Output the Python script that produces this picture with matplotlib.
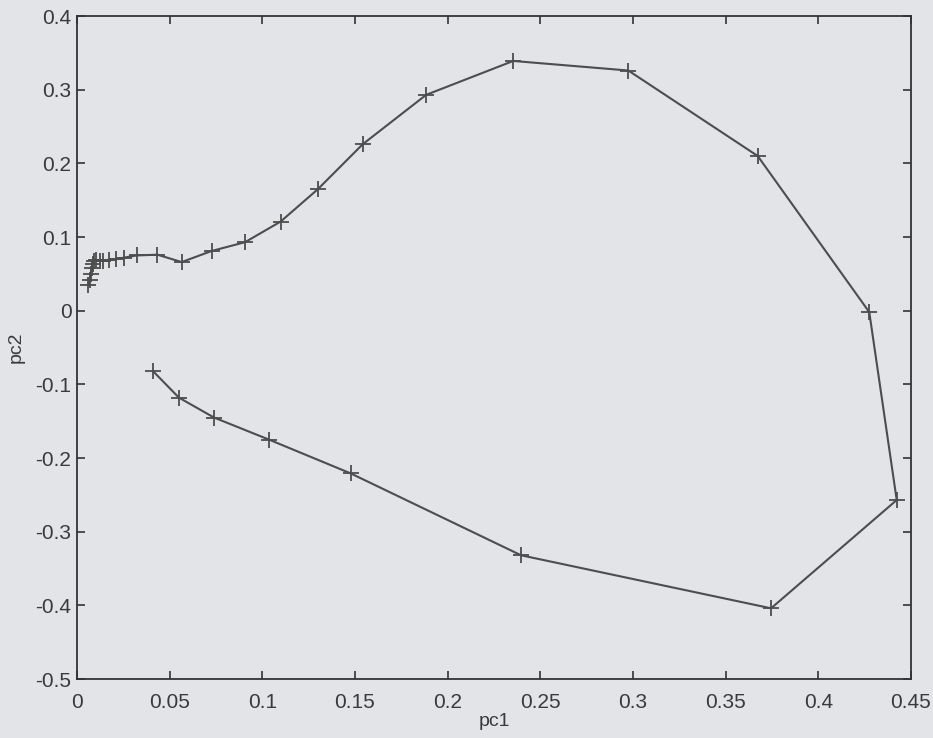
import matplotlib.pyplot as plt

# trajectory in principal-component space
pc1 = [0.0062, 0.0068, 0.0074, 0.0080, 0.0086, 0.0092, 0.0102, 0.0122, 0.0142, 0.0172,
       0.0212, 0.0253, 0.0323, 0.0434, 0.0565, 0.0726, 0.0907, 0.1099, 0.1300, 0.1542,
       0.1884, 0.2354, 0.2975, 0.3673, 0.4275, 0.4423, 0.3745, 0.2396, 0.1478, 0.1036,
       0.0739, 0.0550, 0.0410]
pc2 = [0.035, 0.042, 0.050, 0.058, 0.063, 0.067, 0.069, 0.068, 0.068, 0.069,
       0.070, 0.072, 0.075, 0.076, 0.066, 0.081, 0.093, 0.121, 0.165, 0.226,
       0.293, 0.339, 0.326, 0.210, -0.002, -0.257, -0.404, -0.332, -0.221, -0.175,
       -0.145, -0.118, -0.082]

plt.rcParams['font.family'] = ['Liberation Sans', 'DejaVu Sans']

fig = plt.figure(figsize=(9.33, 7.38), dpi=100)
fig.patch.set_facecolor('#e3e4e8')
ax = fig.add_axes([0.0825, 0.0799, 0.8939, 0.8984])
ax.set_facecolor('#e3e4e8')

ax.plot(pc1, pc2, '-', color='#4d4d4d', lw=1.5, marker='+', ms=11, mew=1.3)

ax.set_xlim(0, 0.45)
ax.set_ylim(-0.5, 0.4)
ax.set_xticks([0, 0.05, 0.1, 0.15, 0.2, 0.25, 0.3, 0.35, 0.4, 0.45])
ax.set_xticklabels(['0', '0.05', '0.1', '0.15', '0.2', '0.25', '0.3', '0.35', '0.4', '0.45'])
ax.set_yticks([-0.5, -0.4, -0.3, -0.2, -0.1, 0, 0.1, 0.2, 0.3, 0.4])
ax.set_yticklabels(['-0.5', '-0.4', '-0.3', '-0.2', '-0.1', '0', '0.1', '0.2', '0.3', '0.4'])
ax.tick_params(direction='in', top=True, right=True, length=5.5, width=1.2,
               labelsize=15, color='#333333', labelcolor='#3a3a3a')
ax.tick_params(axis='x', pad=10)
ax.tick_params(axis='y', pad=4)
for s in ax.spines.values():
    s.set_color('#333333')
    s.set_linewidth(1.3)

ax.set_xlabel('pc1', fontsize=14, color='#3a3a3a', labelpad=1)
ax.set_ylabel('pc2', fontsize=14, color='#3a3a3a', labelpad=8)

fig.savefig('out.png', dpi=100, facecolor=fig.get_facecolor())
